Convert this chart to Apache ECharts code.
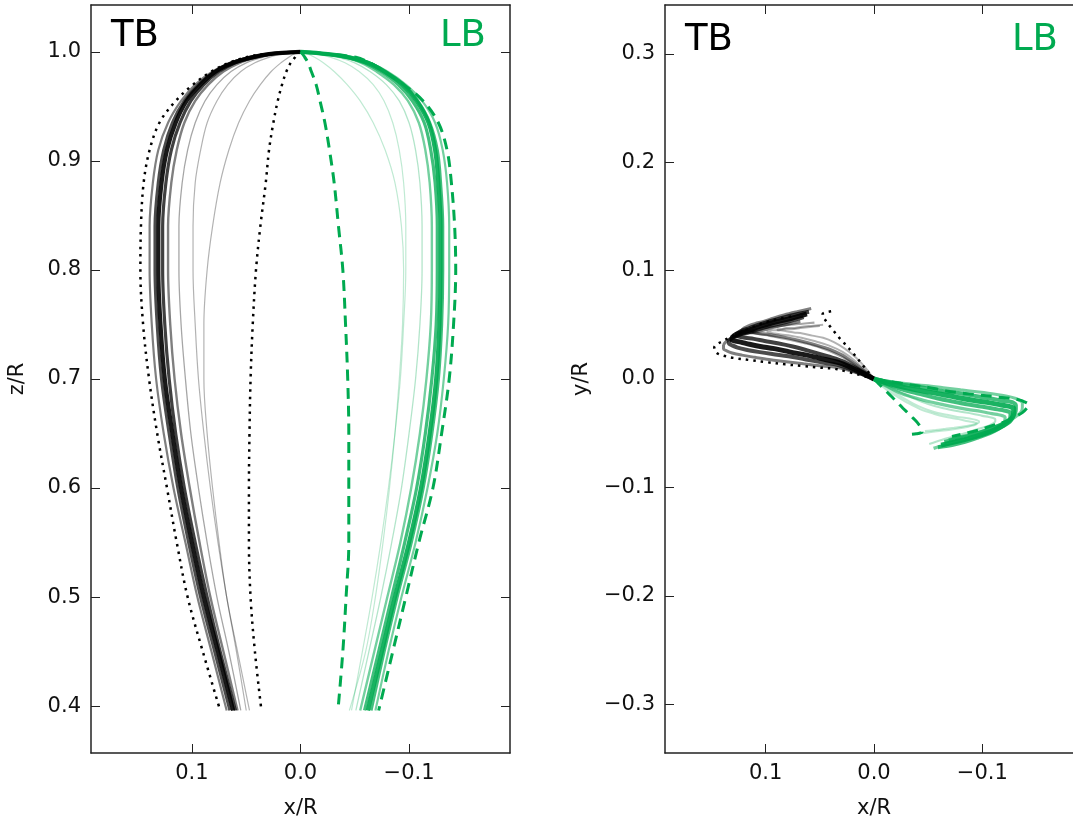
<!DOCTYPE html>
<html>
<head>
<meta charset="utf-8">
<script src="https://cdn.jsdelivr.net/npm/echarts@6/dist/echarts.min.js"></script>
<style>
html,body{margin:0;padding:0;background:#fff;overflow:hidden;}
#chart{width:1073px;height:826px;}
</style>
</head>
<body>
<div id="chart"></div>
<script>
// ---- data ----
const zLevels = [1.0, 0.998, 0.995, 0.99, 0.982, 0.97, 0.955, 0.935, 0.91, 0.88, 0.84, 0.8, 0.75, 0.7, 0.65, 0.6, 0.55, 0.5, 0.45, 0.396];

// TB trajectories: x/R and y/R at each z level
const tbX = [
  [0, .031, .048, .065, .081, .097, .110, .122, .131, .136, .139, .139, .137, .133, .126, .117, .106, .095, .082, .068],
  [0, .030, .046, .063, .079, .094, .107, .118, .126, .131, .134, .134, .132, .128, .121, .113, .103, .092, .079, .065],
  [0, .029, .045, .062, .078, .092, .105, .115, .123, .128, .131, .131, .129, .125, .118, .110, .100, .089, .076, .062],
  [0, .028, .043, .060, .075, .089, .101, .111, .119, .124, .127, .127, .125, .121, .115, .107, .097, .086, .074, .060],
  [0, .026, .040, .056, .071, .085, .097, .107, .114, .119, .122, .122, .120, .116, .110, .102, .093, .083, .071, .058],
  [0, .022, .035, .050, .064, .077, .088, .097, .104, .109, .112, .112, .110, .106, .101, .094, .086, .077, .066, .055],
  [0, .018, .029, .042, .055, .067, .077, .086, .092, .097, .099, .099, .097, .094, .089, .083, .076, .068, .059, .050],
  [0, .006, .011, .018, .027, .037, .047, .057, .066, .074, .081, .086, .089, .089, .086, .081, .075, .068, .058, .047]
];
const tbY = [
  [0, .010, .012, .014, .016, .018, .020, .022, .024, .026, .028, .031, .034, .037, .040, .042, .044, .047, .050, .053],
  [0, .012, .015, .018, .021, .023, .025, .027, .029, .031, .033, .035, .037, .039, .042, .044, .047, .050, .053, .057],
  [0, .014, .018, .022, .025, .028, .030, .032, .034, .035, .036, .038, .040, .042, .044, .047, .050, .053, .056, .060],
  [0, .016, .021, .026, .030, .033, .035, .037, .038, .039, .040, .041, .043, .045, .047, .050, .053, .056, .059, .062],
  [0, .020, .027, .032, .036, .039, .041, .042, .043, .044, .044, .045, .047, .049, .051, .053, .056, .059, .062, .065],
  [0, .016, .023, .029, .033, .036, .038, .040, .041, .042, .043, .044, .045, .046, .047, .048, .049, .050, .051, .052],
  [0, .017, .025, .031, .035, .038, .040, .041, .042, .043, .044, .044, .044, .045, .045, .046, .046, .047, .048, .049],
  [0, .008, .014, .021, .028, .034, .038, .040, .042, .043, .044, .045, .045, .046, .046, .047, .047, .048, .049, .050]
];

// LB trajectories
const lbX = [
  [0, -.027, -.047, -.064, -.080, -.097, -.112, -.124, -.131, -.135, -.137, -.137, -.136, -.132, -.126, -.117, -.106, -.093, -.081, -.069],
  [0, -.026, -.046, -.063, -.078, -.095, -.108, -.119, -.126, -.129, -.131, -.131, -.130, -.127, -.121, -.113, -.102, -.089, -.077, -.065],
  [0, -.025, -.045, -.062, -.077, -.094, -.107, -.118, -.124, -.127, -.129, -.129, -.128, -.125, -.119, -.111, -.100, -.087, -.075, -.062],
  [0, -.024, -.043, -.059, -.074, -.090, -.103, -.114, -.120, -.124, -.126, -.126, -.125, -.121, -.115, -.107, -.096, -.084, -.072, -.059],
  [0, -.022, -.040, -.056, -.070, -.086, -.099, -.109, -.115, -.119, -.121, -.121, -.120, -.116, -.110, -.102, -.092, -.080, -.068, -.055],
  [0, -.019, -.035, -.050, -.064, -.079, -.091, -.100, -.106, -.110, -.112, -.112, -.110, -.106, -.100, -.093, -.084, -.074, -.063, -.051],
  [0, -.015, -.028, -.041, -.054, -.067, -.077, -.085, -.091, -.095, -.097, -.097, -.095, -.092, -.087, -.081, -.074, -.066, -.057, -.047],
  [0, -.007, -.013, -.021, -.031, -.043, -.055, -.067, -.078, -.087, -.093, -.095, -.094, -.091, -.087, -.082, -.076, -.069, -.060, -.045]
];
const lbY = [
  [0, -.004, -.006, -.008, -.010, -.012, -.014, -.016, -.018, -.020, -.022, -.026, -.030, -.034, -.038, -.042, -.046, -.050, -.053, -.056],
  [0, -.005, -.008, -.011, -.013, -.016, -.018, -.020, -.021, -.022, -.024, -.028, -.032, -.036, -.040, -.044, -.048, -.052, -.055, -.058],
  [0, -.007, -.011, -.014, -.017, -.020, -.022, -.024, -.025, -.026, -.027, -.031, -.035, -.039, -.043, -.047, -.051, -.055, -.058, -.061],
  [0, -.009, -.014, -.018, -.021, -.024, -.026, -.028, -.029, -.030, -.031, -.034, -.038, -.042, -.046, -.050, -.054, -.058, -.061, -.063],
  [0, -.012, -.018, -.022, -.025, -.028, -.030, -.032, -.033, -.034, -.035, -.037, -.040, -.043, -.047, -.051, -.054, -.057, -.060, -.064],
  [0, -.010, -.017, -.023, -.027, -.030, -.032, -.034, -.035, -.036, -.037, -.039, -.041, -.043, -.045, -.047, -.050, -.053, -.056, -.060],
  [0, -.010, -.018, -.025, -.030, -.033, -.035, -.036, -.037, -.038, -.039, -.040, -.041, -.042, -.043, -.044, -.045, -.046, -.047, -.048],
  [0, -.006, -.011, -.016, -.022, -.028, -.032, -.035, -.037, -.039, -.040, -.041, -.042, -.043, -.044, -.045, -.046, -.047, -.048, -.050]
];

// envelopes
const tbOuterX = [0, .034, .050, .066, .082, .099, .115, .130, .139, .1445, .147, .1475, .145, .1395, .132, .123, .114, .104, .090, .074];
const tbOuterY = [0, .009, .0105, .012, .0135, .0155, .0175, .0195, .0215, .0235, .026, .029, .032, .035, .039, .043, .047, .051, .055, .058];
const tbInnerX = [0, .003, .005, .009, .013, .017, .021, .025, .029, .032, .037, .041, .044, .046, .047, .0475, .0475, .046, .042, .036];
const tbInnerY = [0, .004, .006, .011, .016, .021, .026, .030, .035, .038, .044, .049, .053, .056, .058, .059, .060, .061, .062, .063];
const lbOuterX = [0, -.025, -.051, -.064, -.077, -.095, -.113, -.127, -.135, -.139, -.142, -.143, -.141, -.137, -.130, -.122, -.109, -.097, -.085, -.072];
const lbOuterY = [0, -.004, -.008, -.0105, -.0125, -.0145, -.0165, -.018, -.0195, -.021, -.0225, -.024, -.027, -.031, -.035, -.039, -.043, -.047, -.050, -.053];
const lbInnerX = [0, -.002, -.004, -.007, -.010, -.0144, -.018, -.0225, -.0267, -.031, -.035, -.039, -.0415, -.0435, -.0445, -.0445, -.0445, -.042, -.039, -.0345];
const lbInnerY = [0, -.002, -.004, -.007, -.010, -.0144, -.018, -.0225, -.027, -.031, -.035, -.039, -.042, -.045, -.047, -.048, -.049, -.050, -.0505, -.051];

const xTicks = [-0.1, 0.0, 0.1];
const zTicks = [0.4, 0.5, 0.6, 0.7, 0.8, 0.9, 1.0];
const yTicks = [-0.3, -0.2, -0.1, 0.0, 0.1, 0.2, 0.3];

// ---- styles ----
const FONT = 'DejaVu Sans';
const GREEN = '#00aa50';
const tbWidth = [2.2, 3.2, 4.2, 3.2, 2.4, 1.3, 1.2, 1.2];
const tbAlpha = [0.5, 0.7, 0.9, 0.75, 0.5, 0.35, 0.3, 0.3];
const lbWidth = [2.2, 3.2, 4.2, 3.2, 2.4, 1.3, 1.2, 1.2];
const lbAlpha = [0.55, 0.75, 0.9, 0.75, 0.55, 0.3, 0.25, 0.25];

function fmt(v) {
  const s = Math.abs(v) < 1e-9 ? '0.0' : v.toFixed(1);
  return s.replace('-', '\u2212');
}
const frame = {color: '#222', width: 1.5};

function xAxesFor(grid, xmin, xmax) {
  return [
    {
      gridIndex: grid, type: 'value', min: xmin, max: xmax, inverse: true, position: 'bottom',
      axisLine: {show: true, onZero: false, lineStyle: frame},
      axisTick: {show: true, inside: true, length: 9, customValues: xTicks, lineStyle: {color: '#222', width: 1}},
      axisLabel: {show: true, customValues: xTicks, formatter: fmt, fontSize: 21, color: '#111', fontFamily: FONT, margin: 10},
      splitLine: {show: false},
      name: 'x/R', nameLocation: 'middle', nameGap: 45,
      nameTextStyle: {fontSize: 21, color: '#111', fontFamily: FONT}
    },
    {
      gridIndex: grid, type: 'value', min: xmin, max: xmax, inverse: true, position: 'top',
      axisLine: {show: true, onZero: false, lineStyle: frame},
      axisTick: {show: true, inside: true, length: 9, customValues: xTicks, lineStyle: {color: '#222', width: 1}},
      axisLabel: {show: false}, splitLine: {show: false}
    }
  ];
}
function yAxesFor(grid, ymin, ymax, ticks, name, gap) {
  return [
    {
      gridIndex: grid, type: 'value', min: ymin, max: ymax, position: 'left',
      axisLine: {show: true, onZero: false, lineStyle: frame},
      axisTick: {show: true, inside: true, length: 9, customValues: ticks, lineStyle: {color: '#222', width: 1}},
      axisLabel: {show: true, customValues: ticks, formatter: fmt, fontSize: 21, color: '#111', fontFamily: FONT, margin: 10},
      splitLine: {show: false},
      name: name, nameLocation: 'middle', nameGap: gap, nameRotate: 90,
      nameTextStyle: {fontSize: 21, color: '#111', fontFamily: FONT}
    },
    {
      gridIndex: grid, type: 'value', min: ymin, max: ymax, position: 'right',
      axisLine: {show: true, onZero: false, lineStyle: frame},
      axisTick: {show: true, inside: true, length: 9, customValues: ticks, lineStyle: {color: '#222', width: 1}},
      axisLabel: {show: false}, splitLine: {show: false}
    }
  ];
}

const series = [];
function addLine(panel, xs, vs, color, width, alpha, type) {
  const data = xs.map((x, i) => [x, vs[i]]);
  series.push({
    type: 'line', xAxisIndex: panel * 2, yAxisIndex: panel * 2, data: data,
    showSymbol: false, symbol: 'none', smooth: 0.35, silent: true,
    lineStyle: {color: color, width: width, opacity: alpha, type: type || 'solid', cap: 'butt'},
    z: type ? 5 : 2
  });
}
for (let i = 0; i < tbX.length; i++) {
  addLine(0, tbX[i], zLevels, '#000', tbWidth[i], tbAlpha[i]);
  addLine(1, tbX[i], tbY[i], '#000', tbWidth[i] + 0.8, tbAlpha[i]);
}
for (let i = 0; i < lbX.length; i++) {
  addLine(0, lbX[i], zLevels, GREEN, lbWidth[i], lbAlpha[i]);
  addLine(1, lbX[i], lbY[i], GREEN, lbWidth[i] + 0.8, lbAlpha[i]);
}
const dot = [2.5, 5];
const dash = [11, 7];
addLine(0, tbOuterX, zLevels, '#000', 2.5, 1, dot);
addLine(0, tbInnerX, zLevels, '#000', 2.5, 1, dot);
addLine(1, tbOuterX, tbOuterY, '#000', 2.5, 1, dot);
addLine(1, tbInnerX, tbInnerY, '#000', 2.5, 1, dot);
addLine(0, lbOuterX, zLevels, GREEN, 3, 1, dash);
addLine(0, lbInnerX, zLevels, GREEN, 3, 1, dash);
addLine(1, lbOuterX, lbOuterY, GREEN, 3, 1, dash);
addLine(1, lbInnerX, lbInnerY, GREEN, 3, 1, dash);

const chart = echarts.init(document.getElementById('chart'), null, {renderer: 'canvas'});
chart.setOption({
  animation: false,
  backgroundColor: '#fff',
  grid: [
    {left: 91, top: 5, width: 419, height: 748, containLabel: false, outerBoundsMode: 'none'},
    {left: 665, top: 5, width: 418, height: 748, containLabel: false, outerBoundsMode: 'none'}
  ],
  xAxis: [].concat(xAxesFor(0, -0.193, 0.193), xAxesFor(1, -0.193, 0.193)),
  yAxis: [].concat(yAxesFor(0, 0.357, 1.043, zTicks, 'z/R', 63), yAxesFor(1, -0.345, 0.345, yTicks, 'y/R', 73)),
  series: series,
  graphic: [
    {type: 'text', x: 111, y: 36, style: {text: 'TB', fontSize: 37, fontFamily: FONT, fill: '#000', verticalAlign: 'middle', align: 'left'}},
    {type: 'text', x: 486, y: 36, style: {text: 'LB', fontSize: 37, fontFamily: FONT, fill: GREEN, verticalAlign: 'middle', align: 'right'}},
    {type: 'text', x: 685, y: 40, style: {text: 'TB', fontSize: 37, fontFamily: FONT, fill: '#000', verticalAlign: 'middle', align: 'left'}},
    {type: 'text', x: 1058, y: 40, style: {text: 'LB', fontSize: 37, fontFamily: FONT, fill: GREEN, verticalAlign: 'middle', align: 'right'}}
  ]
});
</script>
</body>
</html>
